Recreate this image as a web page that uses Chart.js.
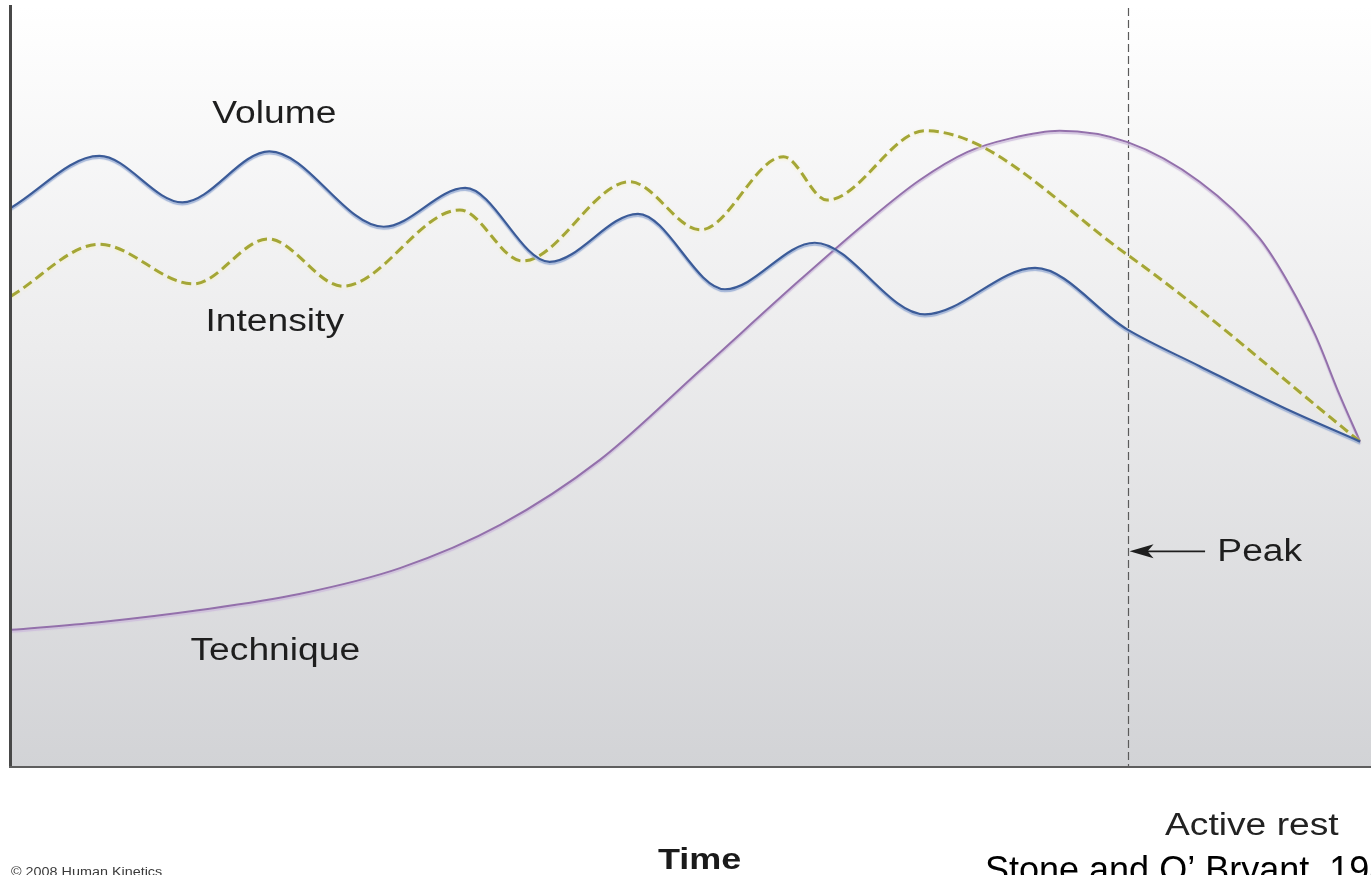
<!DOCTYPE html>
<html>
<head>
<meta charset="utf-8">
<title>Periodization - Volume, Intensity, Technique</title>
<script src="https://cdn.jsdelivr.net/npm/chart.js@4.4.1/dist/chart.umd.min.js"></script>
<style>
    html, body { margin: 0; padding: 0; background: #ffffff; }
    #periodChart { display: block; }
</style>
</head>
<body>
<canvas id="periodChart" width="1371" height="875"></canvas>
<script>
// Time runs 0..100 across the plot, level runs 0..100 from bottom to top
const volumeTime  = [0.0, 6.5, 12.6, 19.0, 27.4, 33.4, 39.6, 46.1, 52.5, 59.1, 67.2, 75.3, 82.1, 87.4, 93.5, 99.2];
const volumeLevel = [73.4, 80.2, 74.1, 80.8, 70.9, 76.0, 66.3, 72.6, 62.7, 68.8, 59.4, 65.5, 57.4, 52.6, 47.2, 42.7];

const intensityTime  = [0.0, 6.5, 13.4, 18.9, 24.4, 33.0, 37.6, 45.5, 50.7, 56.8, 60.0, 67.2, 82.1, 99.2];
const intensityLevel = [61.8, 68.6, 63.4, 69.3, 63.1, 73.1, 66.4, 76.8, 70.5, 80.1, 74.4, 83.5, 67.2, 42.7];

const techniqueTime  = [0.0, 6.5, 13.9, 21.2, 28.6, 36.0, 43.3, 50.7, 58.0, 62.9, 66.8, 70.3, 73.5, 77.1, 82.1, 87.4, 91.8, 94.0, 95.9, 97.7, 99.2];
const techniqueLevel = [18.0, 19.0, 20.6, 22.7, 26.1, 31.8, 40.3, 52.1, 63.9, 71.5, 77.0, 80.7, 82.5, 83.5, 82.0, 76.8, 69.4, 63.3, 56.7, 48.8, 42.7];

// Moment of peak performance
const peakTime = 82.1;

const FONT = '"Liberation Sans", Arial, Helvetica, sans-serif';

/**
 * Pair time and level arrays into chart points
 */
function toPoints(times, levels) {
    return times.map((t, i) => ({ x: t, y: levels[i] }));
}

/**
 * Draw text slightly stretched sideways, like the original slide
 */
function drawText(ctx, text, x, y, font, color, stretch) {
    ctx.save();
    ctx.translate(x, y);
    ctx.scale(stretch || 1, 1);
    ctx.font = font;
    ctx.fillStyle = color;
    ctx.textBaseline = 'middle';
    ctx.textAlign = 'left';
    ctx.fillText(text, 0, 0);
    ctx.restore();
}

// Soft double-line look under each curve
const lineShadows = [
    { color: 'rgba(150, 172, 212, 0.85)', blur: 1, offsetY: 2 },
    { color: 'rgba(245, 240, 195, 0.95)', blur: 3, offsetY: 1 },
    { color: 'rgba(205, 188, 220, 0.9)', blur: 1, offsetY: 2 }
];

const plotBackground = {
    id: 'plotBackground',
    beforeDraw(chart) {
        const { ctx, chartArea } = chart;
        const grad = ctx.createLinearGradient(0, chartArea.top, 0, chartArea.bottom);
        grad.addColorStop(0, '#ffffff');
        grad.addColorStop(0.45, '#ececed');
        grad.addColorStop(1, '#d2d3d6');
        ctx.save();
        ctx.fillStyle = grad;
        ctx.fillRect(chartArea.left, chartArea.top, chartArea.right - chartArea.left, chartArea.bottom - chartArea.top);
        ctx.restore();
    }
};

const lineShadow = {
    id: 'lineShadow',
    beforeDatasetDraw(chart, args) {
        const s = lineShadows[args.index];
        if (!s) return;
        const ctx = chart.ctx;
        ctx.save();
        ctx.shadowColor = s.color;
        ctx.shadowBlur = s.blur;
        ctx.shadowOffsetX = 0;
        ctx.shadowOffsetY = s.offsetY;
    },
    afterDatasetDraw(chart, args) {
        if (lineShadows[args.index]) chart.ctx.restore();
    }
};

const peakMarker = {
    id: 'peakMarker',
    beforeDatasetsDraw(chart) {
        const { ctx, chartArea, scales } = chart;
        const px = Math.round(scales.x.getPixelForValue(peakTime)) + 0.5;
        ctx.save();
        ctx.strokeStyle = '#5a5a5a';
        ctx.lineWidth = 1.2;
        ctx.setLineDash([8, 4]);
        ctx.beginPath();
        ctx.moveTo(px, chartArea.top + 3);
        ctx.lineTo(px, chartArea.bottom);
        ctx.stroke();
        ctx.restore();
    },
    afterDatasetsDraw(chart) {
        const { ctx, chartArea, scales } = chart;
        const x = scales.x, y = scales.y;

        // Axes: left and bottom only
        ctx.save();
        ctx.fillStyle = '#484848';
        ctx.fillRect(chartArea.left - 2, chartArea.top, 3, chartArea.bottom - chartArea.top);
        ctx.fillStyle = '#5e5e5e';
        ctx.fillRect(chartArea.left - 2, chartArea.bottom - 1, chartArea.right - chartArea.left + 2, 2);
        ctx.restore();

        // Curve names
        const labelFont = '31px ' + FONT;
        drawText(ctx, 'Volume', x.getPixelForValue(14.8), y.getPixelForValue(85.6), labelFont, '#1e1e1e', 1.2);
        drawText(ctx, 'Intensity', x.getPixelForValue(14.3), y.getPixelForValue(58.3), labelFont, '#1e1e1e', 1.2);
        drawText(ctx, 'Technique', x.getPixelForValue(13.2), y.getPixelForValue(15.1), labelFont, '#1e1e1e', 1.2);

        // Peak arrow
        const ay = y.getPixelForValue(28.3);
        const tip = x.getPixelForValue(peakTime) + 2;
        const tail = x.getPixelForValue(87.8);
        ctx.save();
        ctx.strokeStyle = '#1e1e1e';
        ctx.fillStyle = '#1e1e1e';
        ctx.lineWidth = 1.6;
        ctx.beginPath();
        ctx.moveTo(tail, ay);
        ctx.lineTo(tip + 12, ay);
        ctx.stroke();
        ctx.beginPath();
        ctx.moveTo(tip, ay);
        ctx.lineTo(tip + 24, ay - 7);
        ctx.lineTo(tip + 18, ay);
        ctx.lineTo(tip + 24, ay + 7);
        ctx.closePath();
        ctx.fill();
        ctx.restore();
        drawText(ctx, 'Peak', x.getPixelForValue(88.7), ay + 1, labelFont, '#1e1e1e', 1.2);

        // Text under the plot
        const base = chartArea.bottom;
        drawText(ctx, 'Active rest', 1165, base + 59, labelFont, '#222222', 1.2);
        drawText(ctx, 'Time', 658, base + 94, 'bold 30px ' + FONT, '#1a1a1a', 1.2);
        drawText(ctx, '\u00a9 2008 Human Kinetics', chartArea.left, base + 106, '12.5px ' + FONT, '#3a3a3a', 1.15);
        drawText(ctx, 'Stone and O\u2019 Bryant, 1987', 985, base + 105, '36px ' + FONT, '#000000', 1.0);
    }
};

const chart = new Chart(document.getElementById('periodChart'), {
    type: 'line',
    data: {
        datasets: [
            {
                label: 'Volume',
                data: toPoints(volumeTime, volumeLevel),
                borderColor: '#3b5b98',
                borderWidth: 2.2
            },
            {
                label: 'Intensity',
                data: toPoints(intensityTime, intensityLevel),
                borderColor: '#a4a636',
                borderWidth: 3,
                borderDash: [10, 5]
            },
            {
                label: 'Technique',
                data: toPoints(techniqueTime, techniqueLevel),
                borderColor: '#9370ab',
                borderWidth: 2
            }
        ]
    },
    options: {
        responsive: false,
        animation: false,
        events: [],
        devicePixelRatio: 1,
        layout: { padding: { left: 11, top: 5, right: 0, bottom: 108 } },
        elements: {
            point: { radius: 0 },
            line: { cubicInterpolationMode: 'monotone', fill: false }
        },
        scales: {
            x: { type: 'linear', min: 0, max: 100, display: false },
            y: { type: 'linear', min: 0, max: 100, display: false }
        },
        plugins: {
            legend: { display: false },
            tooltip: { enabled: false }
        }
    },
    plugins: [plotBackground, peakMarker, lineShadow]
});
</script>
</body>
</html>
